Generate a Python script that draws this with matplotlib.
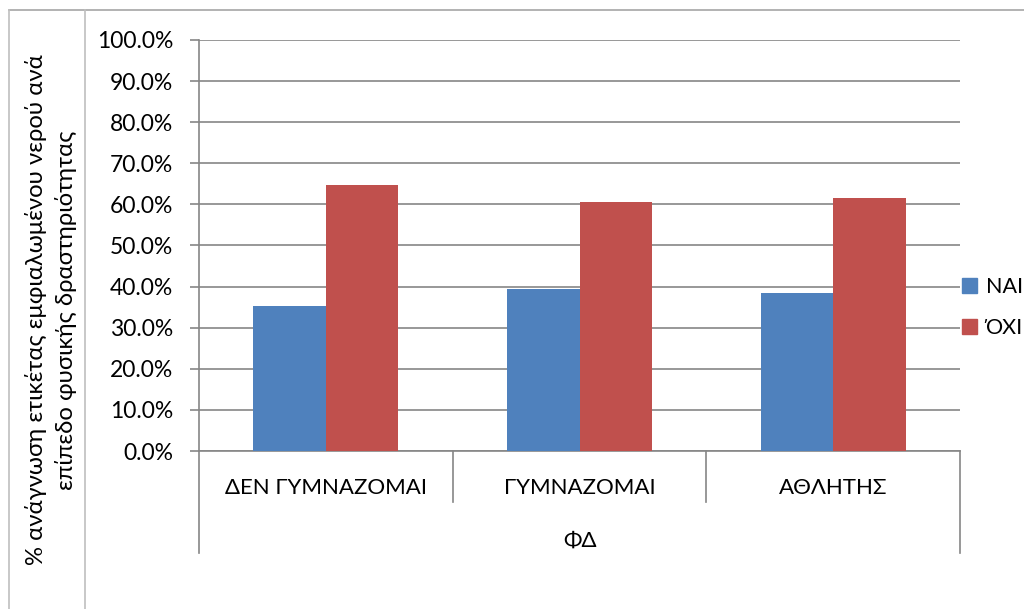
import matplotlib
matplotlib.use("Agg")
import matplotlib.pyplot as plt
from matplotlib.lines import Line2D
from matplotlib.patches import Patch
from matplotlib.ticker import FuncFormatter, MultipleLocator

plt.rcParams["font.family"] = ["Lato", "Noto Sans", "DejaVu Sans"]

categories = ["ΔΕΝ ΓΥΜΝΑΖΟΜΑΙ", "ΓΥΜΝΑΖΟΜΑΙ", "ΑΘΛΗΤΗΣ"]
nai = [35.2, 39.5, 38.5]
oxi = [64.8, 60.5, 61.5]
series_names = ["ΝΑΙ", "ΌΧΙ"]
group_label = "ΦΔ"
ylabel = "% ανάγνωση ετικέτας εμφιαλωμένου νερού ανά\nεπίπεδο φυσικής δραστηριότητας"

BLUE, RED, GRID, FRAME = "#4F81BD", "#C0504D", "#868686", "#BFBFBF"
FS = 16

W, H = 1024, 609
fig = plt.figure(figsize=(W / 100, H / 100), dpi=100)
ax = fig.add_axes([199 / W, 1 - 451 / H, (960 - 199) / W, (451 - 40) / H])

bw = 1 / 3.5
xs = range(len(categories))
ax.bar([x - bw / 2 for x in xs], nai, bw, color=BLUE, zorder=3)
ax.bar([x + bw / 2 for x in xs], oxi, bw, color=RED, zorder=3)

ax.set_xlim(-0.5, len(categories) - 0.5)
ax.set_ylim(0, 100)
ax.yaxis.set_major_locator(MultipleLocator(10))
ax.yaxis.set_major_formatter(FuncFormatter(lambda v, p: f"{v:.1f}%"))
ax.grid(axis="y", color=GRID, lw=1.2, zorder=0)
ax.set_xticks([])
ax.tick_params(axis="y", length=6.5, width=1.2, color=GRID, labelsize=16.5, pad=12)
for s in ["top", "right"]:
    ax.spines[s].set_visible(False)
for s in ["left", "bottom"]:
    ax.spines[s].set_color(GRID)
    ax.spines[s].set_linewidth(1.2)

# multi-level category axis below the plot
tr = ax.get_xaxis_transform()
y1 = -(502 - 451) / 411
y2 = -(553 - 451) / 411
ax.plot([-0.5, -0.5], [0, y2], transform=tr, color=GRID, lw=1.2, clip_on=False)
ax.plot([2.5, 2.5], [0, y2], transform=tr, color=GRID, lw=1.2, clip_on=False)
for b in [0.5, 1.5]:
    ax.plot([b, b], [0, y1], transform=tr, color=GRID, lw=1.2, clip_on=False)
for x, c in zip(xs, categories):
    ax.text(x, -(488 - 451) / 411, c, transform=tr, ha="center", va="center", fontsize=FS)
ax.text(1, -(541 - 451) / 411, group_label, transform=tr, ha="center", va="center", fontsize=FS)

# outer frame bits
fig.add_artist(Line2D([9 / W, 1], [1 - 10 / H] * 2, color="#A6A6A6", lw=1.2))
for xx in [9, 85]:
    fig.add_artist(Line2D([xx / W] * 2, [0, 1 - 10 / H], color=FRAME, lw=1.2))

fig.text(51 / W, 1 - 310 / H, ylabel, rotation=90, ha="center", va="center", fontsize=17.2,
         multialignment="center", linespacing=1.45)

handles = [Patch(color=BLUE), Patch(color=RED)]
fig.legend(handles, series_names, loc="center left", bbox_to_anchor=(962 / W, 1 - 307.5 / H),
           frameon=False, fontsize=15.5, handlelength=0.7, handleheight=0.7,
           handletextpad=0.4, labelspacing=1.0, borderpad=0, borderaxespad=0)

fig.savefig("out.png", dpi=100)
